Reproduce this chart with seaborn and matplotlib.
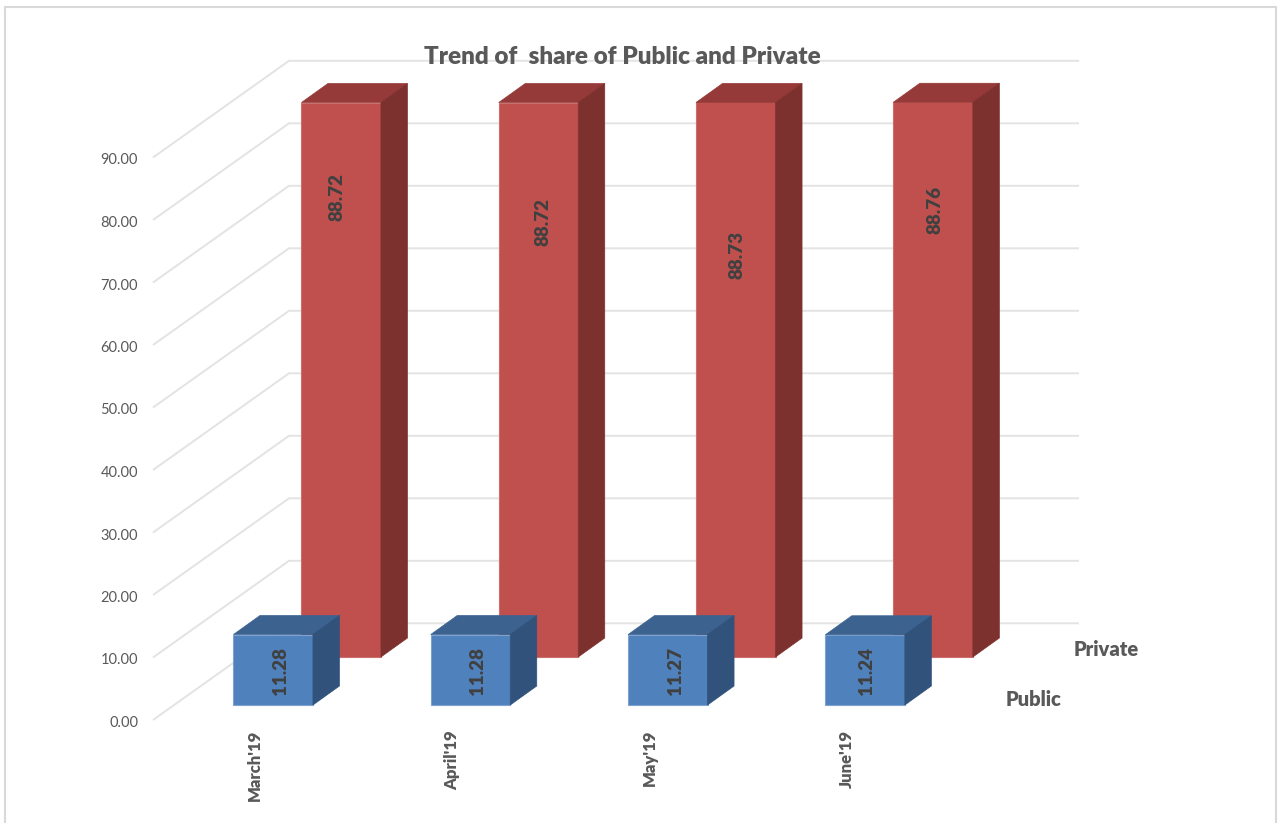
import matplotlib
matplotlib.use("Agg")
import matplotlib.pyplot as plt
import seaborn as sns
from matplotlib.lines import Line2D
from matplotlib.patches import Polygon

# ===== data =====
months = ["March'19", "April'19", "May'19", "June'19"]
public = [11.28, 11.28, 11.27, 11.24]
private = [88.72, 88.72, 88.73, 88.76]
axis_values = [0, 10, 20, 30, 40, 50, 60, 70, 80, 90]

# where the labels sit on each bar (the original has them scattered a bit)
private_label_y = [81.5, 77.4, 72.1, 79.4]
private_label_dx = [-0.02, 0.025, 0.005, 0.01]
public_label_dx = [0.035, 0.035, 0.04, 0.005]

# ===== scale: picture pixels per data unit =====
W, H = 1278, 823
PX_X = 197.3
PX_Y = 6.25
X0 = 273.2
Y0 = 705.0


def dx(px):
    return px / PX_X


def dy(px):
    return px / PX_Y


def to_x(px):
    return (px - X0) / PX_X


def to_y(px):
    return (Y0 - px) / PX_Y


sns.set_theme(style="white")
plt.rcParams["font.family"] = ["Lato", "DejaVu Sans"]

fig = plt.figure(figsize=(W / 100, H / 100), dpi=100)
ax = fig.add_axes([0, 0, 1, 1])

# ===== bars =====
BAR_W = 79.5 / PX_X
DEPTH_X = dx(26.5)
DEPTH_Y = dy(19)
BACK_X = dx(68)
BACK_Y = dy(48)


def add_depth(bars, top_color, side_color, z):
    for p in bars:
        x0, y0 = p.get_x(), p.get_y()
        x1, y1 = x0 + p.get_width(), y0 + p.get_height()
        ax.add_patch(Polygon([(x0, y1), (x1, y1), (x1 + DEPTH_X, y1 + DEPTH_Y), (x0 + DEPTH_X, y1 + DEPTH_Y)],
                             facecolor=top_color, edgecolor=top_color, lw=0.5, zorder=z))
        ax.add_patch(Polygon([(x1, y0), (x1, y1), (x1 + DEPTH_X, y1 + DEPTH_Y), (x1 + DEPTH_X, y0 + DEPTH_Y)],
                             facecolor=side_color, edgecolor=side_color, lw=0.5, zorder=z))


sns.barplot(x=months, y=private, ax=ax, color="#C0504D", saturation=1, width=BAR_W,
            errorbar=None, edgecolor="#CB6F6C", linewidth=0.8, zorder=3)
private_bars = list(ax.containers[-1])
for p in private_bars:
    p.set_x(p.get_x() + BACK_X)
    p.set_y(BACK_Y)
add_depth(private_bars, "#953A38", "#7D312F", 3)

sns.barplot(x=months, y=public, ax=ax, color="#4F81BD", saturation=1, width=BAR_W,
            errorbar=None, edgecolor="#7FA3CF", linewidth=0.8, zorder=5)
public_bars = list(ax.containers[-1])
add_depth(public_bars, "#3C6390", "#30527B", 5)

# ===== walls =====
GRID = "#E3E3E3"
wall_y = dy(Y0 - 623.3)
for v in axis_values:
    y = v + wall_y
    ax.plot([to_x(153), to_x(289), to_x(1079)], [y - dy(96.7), y, y], color=GRID, lw=1.4, zorder=1,
            solid_capstyle="butt", solid_joinstyle="miter")
    ax.text(to_x(138), v + to_y(723), f"{v:.2f}", ha="right", va="center", fontsize=10.5, color="#595959")

# ===== labels =====
for i, m in enumerate(months):
    ax.text(i + private_label_dx[i] + BACK_X, private_label_y[i] - dy(1), f"{private[i]:.2f}", rotation=90,
            ha="center", va="center", fontsize=13.5, fontweight="heavy", color="#404040", zorder=7)
    ax.text(i + public_label_dx[i], public[i] / 2 + dy(-1), f"{public[i]:.2f}", rotation=90,
            ha="center", va="center", fontsize=13.5, fontweight="heavy", color="#404040", zorder=7)
    ax.text(i - dx(18), to_y(730), m, rotation=90, ha="center", va="top",
            fontsize=12, fontweight="heavy", color="#595959")

ax.text(to_x(1074), to_y(650), "Private", ha="left", va="center", fontsize=14.5, fontweight="heavy", color="#595959")
ax.text(to_x(1006), to_y(699), "Public", ha="left", va="center", fontsize=14.5, fontweight="heavy", color="#595959")
ax.text(to_x(622.5), to_y(57.5), "Trend of  share of Public and Private", ha="center", va="center",
        fontsize=17.5, fontweight="heavy", color="#595959", zorder=8)

ax.set_xlim(to_x(0), to_x(W))
ax.set_ylim(to_y(H), to_y(0))
ax.axis("off")

# chart frame, open at the bottom
for xs, ys in [([5, 5], [823, 6.5]), ([5, 1275.5], [6.5, 6.5]), ([1275.5, 1275.5], [6.5, 823])]:
    fig.add_artist(Line2D([x / W for x in xs], [1 - y / H for y in ys], color="#D9D9D9", lw=1.5))

fig.savefig("out.png", dpi=100, facecolor="white")
